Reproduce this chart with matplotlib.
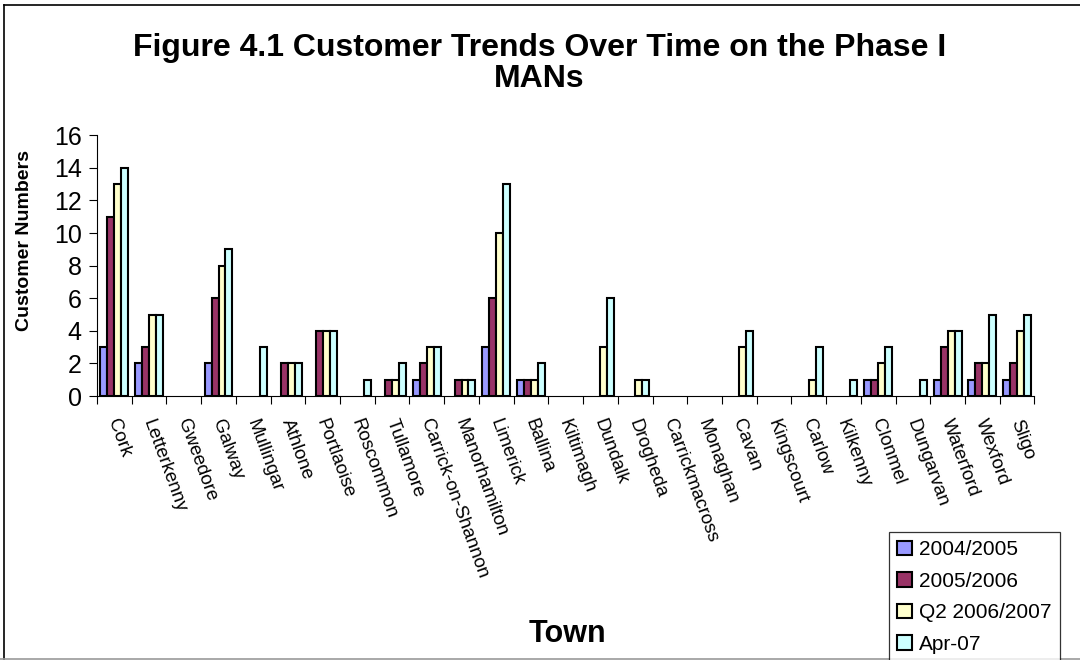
import numpy as np
import matplotlib
matplotlib.use("Agg")
import matplotlib.pyplot as plt
from matplotlib.lines import Line2D

plt.rcParams['font.family'] = ['Liberation Sans', 'DejaVu Sans']

towns = ['Cork', 'Letterkenny', 'Gweedore', 'Galway', 'Mullingar', 'Athlone',
         'Portlaoise', 'Roscommon', 'Tullamore', 'Carrick-on-Shannon',
         'Manorhamilton', 'Limerick', 'Ballina', 'Kiltimagh', 'Dundalk',
         'Drogheda', 'Carrickmacross', 'Monaghan', 'Cavan', 'Kingscourt',
         'Carlow', 'Kilkenny', 'Clonmel', 'Dungarvan', 'Waterford', 'Wexford',
         'Sligo']

y2004 = [3, 2, 0, 2, 0, 0, 0, 0, 0, 1, 0, 3, 1, 0, 0, 0, 0, 0, 0, 0, 0, 0, 1, 0, 1, 1, 1]
y2005 = [11, 3, 0, 6, 0, 2, 4, 0, 1, 2, 1, 6, 1, 0, 0, 0, 0, 0, 0, 0, 0, 0, 1, 0, 3, 2, 2]
q2_2006 = [13, 5, 0, 8, 0, 2, 4, 0, 1, 3, 1, 10, 1, 0, 3, 1, 0, 0, 3, 0, 1, 0, 2, 0, 4, 2, 4]
apr07 = [14, 5, 0, 9, 3, 2, 4, 1, 2, 3, 1, 13, 2, 0, 6, 1, 0, 0, 4, 0, 3, 1, 3, 1, 4, 5, 5]

series = [y2004, y2005, q2_2006, apr07]
names = ['2004/2005', '2005/2006', 'Q2 2006/2007', 'Apr-07']
colors = ['#9999FF', '#993366', '#FFFFCC', '#CCFFFF']

fig = plt.figure(figsize=(10.8, 6.6), dpi=100)
ax = fig.add_axes([0.0898, 0.40, 0.868, 0.395])

x = np.arange(len(towns))
w = 0.2
for i, (vals, nm, c) in enumerate(zip(series, names, colors)):
    v = np.array(vals, dtype=float)
    v[v == 0] = np.nan
    ax.bar(x + (i - 1.5) * w, v, width=w, color=c, edgecolor='black',
           linewidth=1.5, label=nm)

ax.set_xlim(-0.5, len(towns) - 0.5)
ax.set_ylim(0, 16)
ax.set_yticks(range(0, 17, 2))
ax.tick_params(axis='y', labelsize=18, direction='out', length=6, pad=5)
ax.set_xticks(np.arange(len(towns) + 1) - 0.5)
ax.set_xticklabels([])
ax.tick_params(axis='x', direction='out', length=6)
for xi, t in zip(x, towns):
    ax.text(xi - 0.05, -1.45, t, rotation=-70, ha='left', va='center',
            rotation_mode='anchor', fontsize=13.5)

for s in ['top', 'right']:
    ax.spines[s].set_visible(False)

fig.text(0.023, 0.636, 'Customer Numbers', rotation=90, ha='center', va='center',
         fontsize=14, fontweight='bold')

fig.text(0.4995, 0.95, 'Figure 4.1 Customer Trends Over Time on the Phase I\nMANs',
         ha='center', va='top', fontsize=23, fontweight='bold', linespacing=1.05)
fig.text(0.525, 0.04, 'Town', ha='center', va='center', fontsize=22, fontweight='bold')

leg = fig.legend(loc='upper left', bbox_to_anchor=(0.823, 0.194), fontsize=15,
                 frameon=True, fancybox=False, edgecolor='black', handlelength=0.7,
                 handleheight=0.7, handletextpad=0.35, labelspacing=0.6,
                 borderpad=0.4, borderaxespad=0)
leg.get_frame().set_linewidth(0.9)

# outer chart frame
fig.add_artist(Line2D([0.004, 0.004], [0.0, 0.993], transform=fig.transFigure,
                      color='black', linewidth=1.2))
fig.add_artist(Line2D([0.004, 1.0], [0.993, 0.993], transform=fig.transFigure,
                      color='black', linewidth=1.2))
fig.add_artist(Line2D([0.0, 1.0], [0.002, 0.002], transform=fig.transFigure,
                      color='#999999', linewidth=1.2))

fig.savefig('out.png', dpi=100)
